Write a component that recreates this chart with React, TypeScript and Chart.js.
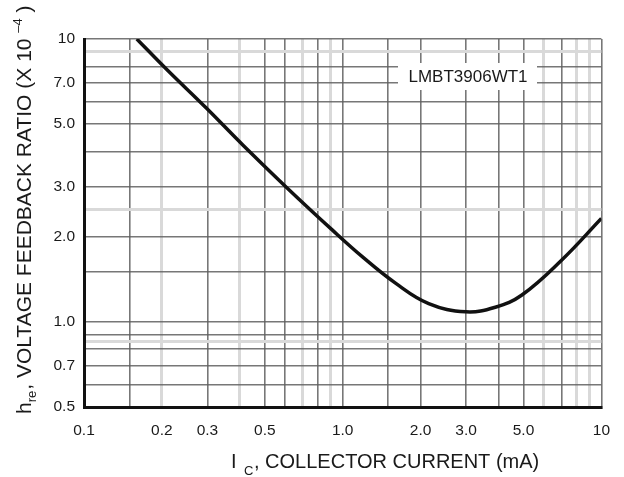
import React, { useEffect, useRef } from 'react';
import { Chart, registerables } from 'chart.js';

Chart.register(...registerables);

// Collector current (mA) and voltage feedback ratio h_re (x 10^-4)
const currentMA = [0.16, 0.208, 0.297, 0.411, 0.604, 0.913, 1.19, 1.6, 2.15, 2.99, 3.89, 4.93, 7.03, 10];
const hre = [10, 7.83, 5.7, 4.22, 3.0, 2.11, 1.7, 1.37, 1.16, 1.085, 1.126, 1.244, 1.654, 2.32];

const xGridValues = [0.1, 0.15, 0.2, 0.3, 0.4, 0.5, 0.6, 0.7, 0.8, 0.9, 1, 1.5, 2, 3, 4, 5, 6, 7, 8, 9, 10];
const xLightValues = [0.2, 0.4, 0.7, 0.9, 6, 8, 9];
const xLabelValues = [0.1, 0.2, 0.3, 0.5, 1, 2, 3, 5, 10];
const xLabelTexts = ['0.1', '0.2', '0.3', '0.5', '1.0', '2.0', '3.0', '5.0', '10'];

const yGridValues = [0.5, 0.6, 0.7, 0.8, 0.85, 0.9, 1, 1.5, 2, 2.5, 3, 4, 5, 6, 7, 8, 9, 10];
const yLightValues = [0.85, 2.5, 9];
const yLabelValues = [0.5, 0.7, 1, 2, 3, 5, 7, 10];
const yLabelTexts = ['0.5', '0.7', '1.0', '2.0', '3.0', '5.0', '7.0', '10'];

const partName = 'LMBT3906WT1';

const FONT = '"Liberation Sans", Arial, Helvetica, sans-serif';
const TEXT = '#1a1a1a';
const DARK = 'rgba(95,95,95,0.85)';
const LIGHT = '#d9d9d9';

const near = (a: number, b: number) => Math.abs(a - b) < 1e-9;
const inList = (v: number, list: number[]) => list.some((x) => near(x, v));
const labelOf = (v: number, vals: number[], texts: string[]) => {
  const i = vals.findIndex((x) => near(x, v));
  return i >= 0 ? texts[i] : '';
};

const titlesPlugin = {
  id: 'titlesPlugin',
  afterDraw(chart: any) {
    const ctx = chart.ctx as CanvasRenderingContext2D;
    ctx.save();
    ctx.fillStyle = TEXT;
    ctx.textAlign = 'left';
    ctx.textBaseline = 'alphabetic';

    // X title with subscript
    ctx.font = `20px ${FONT}`;
    ctx.fillText('I', 231, 468);
    ctx.font = `13px ${FONT}`;
    ctx.fillText('C', 244, 475);
    ctx.font = `20px ${FONT}`;
    ctx.fillText(', COLLECTOR CURRENT (mA)', 254, 468);

    // Y title (rotated) with subscript and superscript
    ctx.save();
    ctx.translate(31, 414);
    ctx.rotate(-Math.PI / 2);
    let x = 0;
    const part = (t: string, size: number, dy: number, gap = 0) => {
      ctx.font = `${size}px ${FONT}`;
      ctx.fillText(t, x, dy);
      x += ctx.measureText(t).width + gap;
    };
    part('h', 21, 0);
    part('re', 13, 5, 1);
    part(', VOLTAGE FEEDBACK RATIO (X 10 ', 21, 0);
    part('\u20134', 13, -9);
    part(' )', 21, 0);
    ctx.restore();

    // Part-number annotation on white background
    ctx.fillStyle = '#ffffff';
    ctx.fillRect(398, 63, 139, 27);
    ctx.fillStyle = TEXT;
    ctx.font = `17px ${FONT}`;
    ctx.textAlign = 'center';
    ctx.textBaseline = 'middle';
    ctx.fillText(partName, 468, 77);
    ctx.restore();
  },
};

export default function App() {
  const canvasRef = useRef<HTMLCanvasElement | null>(null);

  useEffect(() => {
    const canvas = canvasRef.current;
    if (!canvas) return;
    const chart = new Chart(canvas, {
      type: 'line',
      data: {
        datasets: [
          {
            data: currentMA.map((c, i) => ({ x: c, y: hre[i] })),
            borderColor: '#111111',
            borderWidth: 3.5,
            pointRadius: 0,
            fill: false,
            tension: 0.4,
          },
        ],
      },
      options: {
        responsive: false,
        animation: false,
        devicePixelRatio: 1,
        layout: { padding: { top: 39, right: 21, left: 0, bottom: 0 } },
        plugins: {
          legend: { display: false },
          tooltip: { enabled: false },
          title: { display: false },
        },
        scales: {
          x: {
            type: 'logarithmic',
            min: 0.1,
            max: 10,
            afterBuildTicks: (s: any) => {
              s.ticks = xGridValues.map((v) => ({ value: v }));
            },
            afterFit: (s: any) => {
              s.height = 70;
            },
            ticks: {
              autoSkip: false,
              maxRotation: 0,
              minRotation: 0,
              padding: 14,
              color: TEXT,
              font: { family: FONT, size: 15.5 },
              callback: (v: any) => labelOf(Number(v), xLabelValues, xLabelTexts),
            },
            grid: {
              drawTicks: false,
              color: (c: any) => (inList(c.tick.value, xLightValues) ? LIGHT : DARK),
              lineWidth: (c: any) => (inList(c.tick.value, xLightValues) ? 3 : 1.6),
            },
            border: { color: '#111111', width: 3 },
          },
          y: {
            type: 'logarithmic',
            min: 0.5,
            max: 10,
            afterBuildTicks: (s: any) => {
              s.ticks = yGridValues.map((v) => ({ value: v }));
            },
            afterFit: (s: any) => {
              s.width = 84;
            },
            ticks: {
              autoSkip: false,
              padding: 9,
              color: TEXT,
              font: { family: FONT, size: 15.5 },
              callback: (v: any) => labelOf(Number(v), yLabelValues, yLabelTexts),
            },
            grid: {
              drawTicks: false,
              color: (c: any) => (inList(c.tick.value, yLightValues) ? LIGHT : DARK),
              lineWidth: (c: any) => (inList(c.tick.value, yLightValues) ? 3 : 1.6),
            },
            border: { color: '#111111', width: 3 },
          },
        },
      },
      plugins: [titlesPlugin],
    } as any);
    return () => chart.destroy();
  }, []);

  return (
    <div style={{ position: 'absolute', left: 0, top: 0, width: 624, height: 477, background: '#fff' }}>
      <canvas ref={canvasRef} width={624} height={477} />
    </div>
  );
}
